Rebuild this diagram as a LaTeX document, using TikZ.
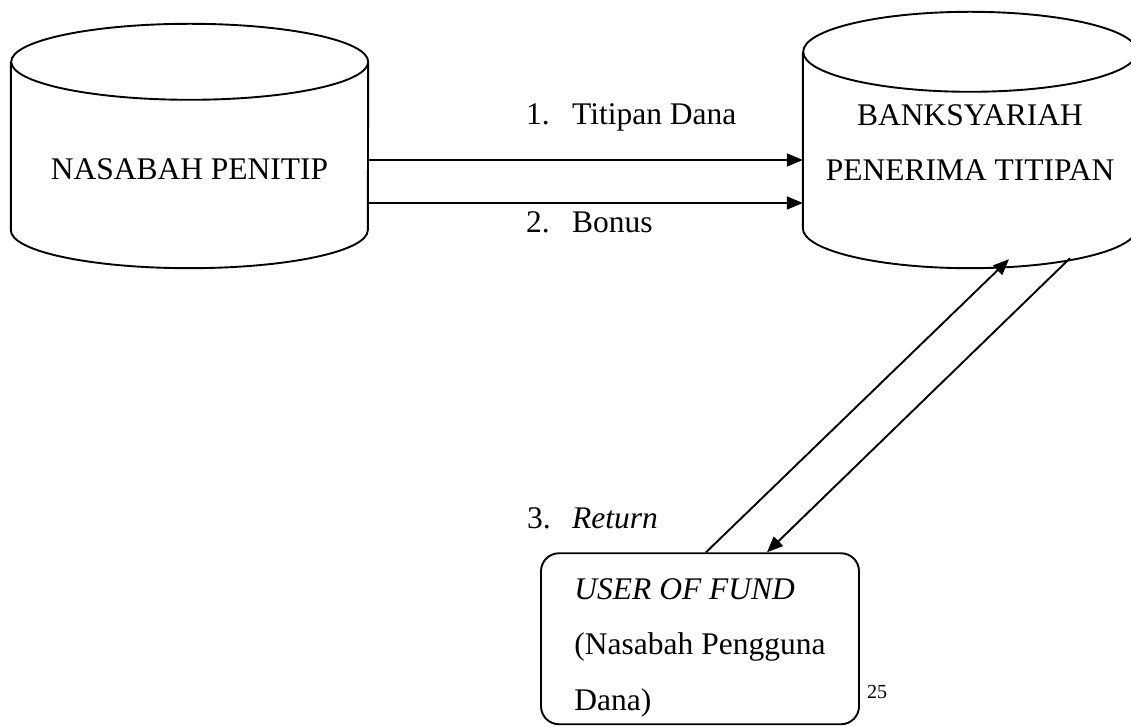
\documentclass[tikz,border=0pt]{standalone}
\usepackage{fontspec}
\setmainfont{Liberation Serif}
\usetikzlibrary{arrows.meta,positioning}

\begin{document}
\begin{tikzpicture}[
  x=1pt, y=1pt,
  rim/.style={line width=1.9pt, black},
  drum/.style={inner sep=0pt, align=center, font=\fontsize{31.5}{55}\selectfont},
  fundbox/.style={draw, line width=1.9pt, rounded corners=18pt, inner sep=0pt, align=left,
                  minimum width=318pt, minimum height=171pt,
                  font=\fontsize{31.5}{55.5}\selectfont},
  arr/.style={-{Triangle[length=16pt,width=13pt]}, line width=1.9pt},
  lbl/.style={anchor=base west, inner sep=0pt, font=\fontsize{31.5}{38}\selectfont},
]
\useasboundingbox (0,0) rectangle (1131,726);

% the two drums
\node[drum, minimum width=357pt, minimum height=168pt] (nasabah) at (189.5,580) {\mbox{}\\[12pt]NASABAH PENITIP};
\draw[rim] (nasabah.north west) -- (nasabah.south west)
  arc[start angle=180, end angle=360, x radius=178.5pt, y radius=38pt]
  -- (nasabah.north east)
  arc[start angle=0, end angle=360, x radius=178.5pt, y radius=38pt];

\node[drum, minimum width=334pt, minimum height=176pt] (bank) at (970,586) {\rule{0pt}{27pt}BANKSYARIAH\\PENERIMA TITIPAN};
\draw[rim] (bank.north west) -- (bank.south west)
  arc[start angle=180, end angle=360, x radius=167pt, y radius=40pt]
  -- (bank.north east)
  arc[start angle=0, end angle=360, x radius=167pt, y radius=40pt];

% user of fund
\node[fundbox] (user) at (700,87.25) {\rule{0pt}{39pt}\textit{USER OF FUND}\\(Nasabah Pengguna\\Dana)};

% labels
\node[lbl] (titipan) at (526,601) {\makebox[46pt][l]{1.}Titipan Dana};
\node[lbl] (bonus) at (526,493) {\makebox[46pt][l]{2.}Bonus};
\node[lbl] (return) at (527,198) {\makebox[45pt][l]{3.}\textit{Return}};
\node[lbl, font=\fontsize{20}{24}\selectfont] (page) at (867,28) {25};

% flows
\coordinate (dana) at ([yshift=-14pt]nasabah.east);
\coordinate (bns) at ([yshift=-57pt]nasabah.east);
\draw[arr] (dana) -- (dana -| bank.west);
\draw[arr] (bns) -- (bns -| bank.west);
\draw[arr] ([xshift=6pt]user.north) -- ([xshift=39pt,yshift=-31pt]bank.south);
\draw[arr] ([xshift=100pt,yshift=-30pt]bank.south) -- ([xshift=67pt]user.north);
\end{tikzpicture}
\end{document}
